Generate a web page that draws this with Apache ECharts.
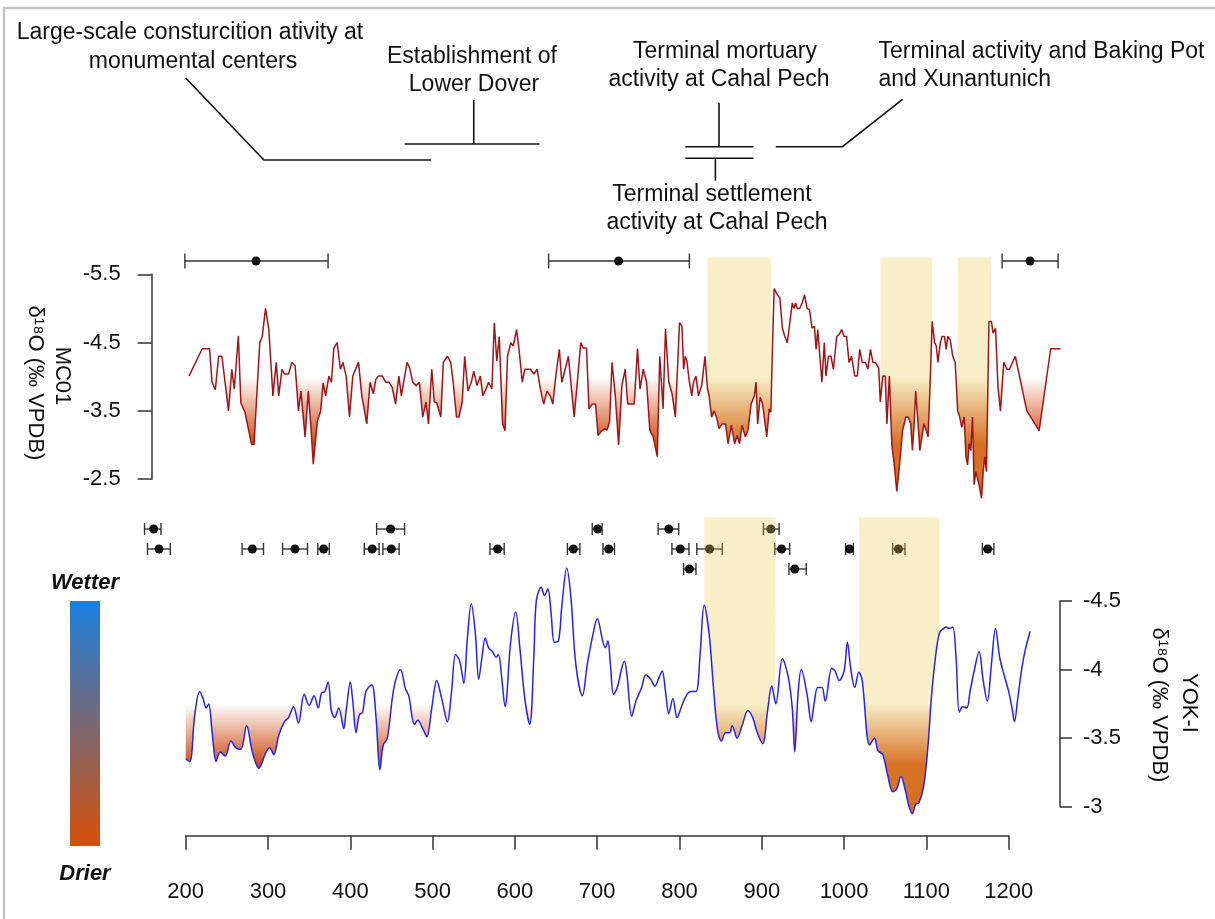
<!DOCTYPE html>
<html>
<head>
<meta charset="utf-8">
<script src="https://cdn.jsdelivr.net/npm/echarts@6/dist/echarts.min.js"></script>
<style>
  html, body { margin: 0; padding: 0; background: #fff; }
  #chart { width: 1215px; height: 919px; }
</style>
</head>
<body>
<div id="chart"></div>
<script>
// MC01 record, [year AD, d18O]
const mc01 = [
  [204,-4.01],[220,-4.41],[229,-4.41],[232,-3.92],[236,-3.81],[240,-4.30],[244,-4.30],[252,-3.50],
  [256,-4.11],[259,-3.82],[264,-4.60],[267,-3.62],[272,-3.48],[280,-3.01],[283,-3.01],[290,-4.50],
  [293,-4.59],[297,-5.00],[301,-4.69],[306,-3.72],[310,-4.21],[313,-3.72],[317,-4.11],[320,-4.04],
  [325,-4.04],[329,-4.21],[333,-4.16],[337,-3.50],[340,-3.79],[345,-3.12],[349,-3.79],[352,-3.29],
  [355,-2.72],[360,-3.35],[364,-3.50],[367,-3.91],[370,-3.72],[374,-4.01],[377,-3.92],[380,-4.42],
  [384,-4.50],[388,-4.11],[391,-4.21],[395,-4.01],[399,-3.41],[403,-4.01],[410,-4.21],[414,-3.72],
  [420,-3.31],[424,-3.92],[428,-3.75],[431,-3.96],[434,-4.01],[439,-4.01],[443,-3.92],[447,-3.92],
  [451,-3.84],[455,-3.60],[459,-4.01],[462,-3.72],[469,-4.21],[472,-4.13],[476,-3.92],[480,-3.87],
  [484,-3.92],[488,-3.41],[492,-3.63],[495,-3.31],[499,-4.11],[502,-3.63],[505,-3.62],[510,-3.41],
  [513,-4.21],[518,-4.30],[522,-4.21],[525,-3.92],[529,-3.41],[532,-3.41],[536,-3.63],[539,-4.30],
  [543,-3.79],[547,-3.92],[550,-4.08],[554,-3.87],[558,-4.01],[561,-3.72],[565,-3.82],[568,-3.92],
  [572,-3.82],[575,-4.79],[578,-4.23],[581,-4.59],[585,-3.31],[588,-3.21],[591,-4.30],[595,-4.50],
  [598,-4.45],[602,-4.69],[605,-4.40],[609,-3.92],[612,-4.11],[616,-4.11],[619,-4.11],[623,-4.04],
  [627,-4.11],[631,-3.82],[635,-3.60],[639,-3.79],[643,-3.72],[646,-3.60],[650,-4.04],[654,-4.40],
  [657,-3.92],[661,-4.11],[665,-4.30],[669,-3.79],[672,-3.41],[676,-3.94],[680,-4.50],[683,-4.42],
  [687,-4.42],[690,-3.53],[694,-3.60],[698,-3.60],[701,-3.14],[705,-3.20],[709,-3.24],[712,-3.22],
  [715,-3.34],[718,-4.21],[722,-3.72],[726,-3.00],[730,-3.87],[734,-4.11],[737,-3.60],[742,-3.60],
  [745,-3.60],[749,-4.41],[752,-3.82],[756,-4.11],[760,-3.92],[764,-3.21],[768,-3.12],[773,-2.83],
  [776,-4.30],[780,-3.53],[783,-4.70],[787,-3.92],[791,-3.75],[795,-3.41],[800,-4.79],[803,-4.74],
  [805,-4.11],[807,-4.30],[809,-4.23],[812,-3.92],[815,-3.72],[817,-3.92],[820,-4.01],[823,-3.72],
  [827,-3.87],[831,-4.30],[834,-3.82],[836,-3.72],[839,-3.41],[842,-3.50],[845,-3.41],[848,-3.24],
  [852,-3.31],[856,-3.31],[859,-3.02],[863,-3.29],[867,-3.02],[870,-3.14],[873,-3.02],[876,-3.29],
  [880,-3.12],[883,-3.21],[887,-3.60],[891,-3.72],[893,-3.92],[895,-3.31],[898,-3.70],[901,-3.60],
  [904,-3.31],[906,-3.12],[909,-3.53],[911,-3.48],[913,-4.45],[915,-5.29],[918,-5.22],[922,-5.15],
  [925,-4.71],[928,-4.59],[931,-4.50],[934,-4.79],[937,-5.08],[939,-5.00],[941,-5.08],[943,-5.00],
  [946,-5.00],[949,-5.08],[952,-5.20],[955,-5.00],[958,-4.98],[961,-4.71],[964,-4.74],[966,-4.40],
  [968,-4.69],[970,-4.71],[973,-3.92],[976,-4.50],[978,-4.01],[981,-4.30],[984,-4.30],[987,-4.11],
  [991,-4.59],[994,-4.62],[997,-4.69],[1000,-4.59],[1003,-4.59],[1006,-4.21],[1009,-4.30],[1013,-4.01],
  [1016,-4.01],[1019,-4.40],[1022,-4.21],[1026,-4.21],[1029,-4.11],[1032,-4.40],[1035,-4.21],[1038,-4.21],
  [1042,-4.13],[1044,-3.63],[1047,-4.01],[1050,-4.01],[1052,-3.31],[1055,-4.01],[1058,-3.00],[1061,-2.71],
  [1064,-2.32],[1067,-2.66],[1071,-3.21],[1075,-3.41],[1078,-3.41],[1081,-3.31],[1083,-2.92],[1085,-3.29],
  [1087,-3.79],[1090,-3.29],[1092,-2.92],[1094,-2.92],[1097,-3.31],[1100,-3.21],[1102,-3.12],[1104,-3.72],
  [1107,-4.81],[1110,-4.50],[1112,-4.45],[1114,-4.21],[1117,-4.50],[1119,-4.59],[1122,-4.59],[1124,-4.40],
  [1126,-4.59],[1129,-4.54],[1132,-4.30],[1135,-4.21],[1138,-3.50],[1140,-3.43],[1143,-3.26],[1146,-3.41],
  [1148,-2.83],[1150,-2.71],[1152,-3.02],[1154,-2.92],[1156,-3.41],[1158,-2.42],[1160,-2.61],[1162,-2.61],
  [1164,-2.42],[1167,-2.22],[1169,-2.61],[1171,-2.83],[1173,-2.61],[1176,-4.81],[1179,-4.81],[1181,-4.64],
  [1184,-4.71],[1187,-3.84],[1190,-3.50],[1194,-4.21],[1198,-4.11],[1201,-4.11],[1208,-4.30],[1222,-3.50],
  [1237,-3.21],[1251,-4.41],[1263,-4.41]
];

// YOK-I record, [year AD, d18O]
const yokI = [
  [200,-3.35],[205,-3.33],[211,-3.67],[217,-3.84],[221,-3.79],[225,-3.72],[228,-3.75],[232,-3.55],
  [237,-3.33],[242,-3.40],[248,-3.37],[255,-3.48],[261,-3.43],[267,-3.42],[274,-3.59],[281,-3.40],
  [289,-3.28],[297,-3.39],[302,-3.43],[307,-3.38],[313,-3.52],[320,-3.62],[325,-3.65],[331,-3.73],
  [337,-3.61],[344,-3.82],[350,-3.74],[356,-3.81],[361,-3.72],[365,-3.83],[369,-3.84],[373,-3.91],
  [377,-3.70],[381,-3.65],[386,-3.72],[392,-3.57],[395,-3.70],[400,-3.91],[403,-3.77],[407,-3.54],
  [411,-3.67],[415,-3.69],[419,-3.84],[426,-3.89],[431,-3.67],[436,-3.27],[440,-3.45],[445,-3.50],
  [451,-3.79],[455,-3.92],[461,-4.00],[467,-3.86],[471,-3.81],[478,-3.60],[482,-3.63],[488,-3.57],
  [493,-3.51],[499,-3.72],[505,-3.92],[511,-3.79],[518,-3.62],[523,-3.84],[528,-4.11],[533,-4.06],
  [538,-3.90],[542,-4.21],[547,-4.48],[552,-4.26],[556,-3.93],[560,-4.09],[564,-4.23],[568,-4.16],
  [573,-4.13],[577,-4.09],[580,-4.11],[584,-3.94],[588,-3.73],[595,-4.21],[601,-4.42],[606,-4.16],
  [612,-3.79],[618,-3.60],[623,-4.09],[626,-4.50],[632,-4.60],[636,-4.54],[640,-4.59],[644,-4.41],
  [648,-4.20],[653,-4.21],[657,-4.46],[663,-4.74],[668,-4.53],[674,-4.04],[682,-3.81],[688,-4.04],
  [695,-4.26],[700,-4.37],[707,-4.20],[710,-4.16],[713,-4.21],[716,-4.04],[720,-3.82],[725,-3.88],
  [729,-3.99],[733,-4.06],[736,-3.97],[742,-3.66],[747,-3.77],[754,-3.87],[759,-3.96],[765,-3.93],
  [770,-3.88],[775,-3.94],[779,-3.99],[783,-3.84],[787,-3.68],[792,-3.79],[797,-3.65],[803,-3.74],
  [809,-3.82],[814,-3.84],[820,-3.84],[825,-4.11],[830,-4.47],[836,-4.26],[841,-3.89],[846,-3.57],
  [851,-3.48],[856,-3.54],[861,-3.54],[864,-3.59],[870,-3.50],[876,-3.59],[883,-3.70],[889,-3.65],
  [894,-3.55],[901,-3.46],[907,-3.70],[912,-3.88],[917,-3.75],[925,-4.08],[932,-3.95],[937,-3.72],
  [940,-3.40],[944,-3.82],[948,-4.00],[955,-3.82],[960,-3.62],[964,-3.77],[968,-3.87],[973,-3.87],
  [977,-3.77],[985,-4.01],[989,-3.99],[994,-3.92],[1000,-3.99],[1004,-4.20],[1008,-4.01],[1013,-3.87],
  [1018,-3.98],[1022,-3.92],[1031,-3.45],[1037,-3.50],[1041,-3.41],[1047,-3.38],[1053,-3.23],[1059,-3.11],
  [1064,-3.13],[1069,-3.22],[1074,-3.13],[1079,-3.00],[1083,-2.95],[1087,-3.02],[1091,-3.03],[1097,-3.16],
  [1102,-3.45],[1106,-3.79],[1111,-4.09],[1116,-4.27],[1121,-4.30],[1124,-4.31],[1128,-4.30],[1132,-4.31],
  [1136,-4.09],[1140,-3.69],[1144,-3.73],[1149,-3.72],[1153,-3.84],[1158,-3.99],[1164,-4.13],[1169,-3.92],
  [1174,-3.77],[1179,-4.04],[1184,-4.30],[1189,-4.09],[1194,-3.97],[1200,-3.84],[1204,-3.72],[1207,-3.62],
  [1211,-3.79],[1216,-4.01],[1220,-4.14],[1226,-4.28]
];

// dates with ranges: [centre, low, high, row]
const mc01Dates = [[285.5,199,373,1],[726,641,812,1],[1226,1192,1260,1]];
const yokDates = [
  [161,150,170,1],[449,432,466,1],[700.6,694,706,1],[787,774,799,1],[911,902,921,1],
  [167.6,153.6,181.3,2],[281,268.5,294.5,2],[332.7,317.7,348,2],[367.6,360.5,374.5,2],[426.6,417,435,2],
  [449.8,439.6,459.3,2],[579,569.7,587,2],[671,663.8,679,2],[714,707,721,2],[801,790.8,811.5,2],
  [836.5,821,852,2],[924,915.7,933.9,2],[1006.6,1001.8,1011.3,2],[1066,1059,1074,2],[1174.5,1168,1182,2],
  [812,805,820,3],[940,933,954,3]
];

const mc01Bands = [[832,911],[1044,1108],[1136,1179]];
const yokBands = [[830,918],[1018,1117]];
const mc01Dry = -4.0;
const yokDry = -3.75;
const mc01Ticks = ['-5.5','-4.5','-3.5','-2.5'];
const yokTicks = ['-4.5','-4','-3.5','-3'];

const FONT = '"Liberation Sans", Arial, Helvetica, sans-serif';
const INK = '#111';
const AXIS = '#333';

// shared year scale
const YEAR0 = 200, YEAR0_PX = 185.7, PX_PER_YEAR = 0.823;
const X_MIN = 140, X_MAX = 1280;
const spanX = (a, b) => ({ left: YEAR0_PX + (a - YEAR0) * PX_PER_YEAR, width: (b - a) * PX_PER_YEAR });
const mcPx = v => 274.3 + (v + 5.5) * 68.3;
const yokPx = v => 601 + (v + 4.5) * 137.2;
const MC_MIN = -5.75, MC_MAX = -2.0, YOK_MIN = -5.11, YOK_MAX = -2.8;

const bandColor = 'rgba(232,202,72,0.3)';
const dryFill = (y0, y1) => ({
  type: 'linear', x: 0, y: y0, x2: 0, y2: y1, global: true,
  colorStops: [{ offset: 0, color: '#ffffff' }, { offset: 1, color: '#cf4a12' }]
});

function renderDate(params, api) {
  const row = api.value(3);
  const c = api.coord([api.value(0), row]);
  const lo = api.coord([api.value(1), row]);
  const hi = api.coord([api.value(2), row]);
  const h = params.seriesIndex === 0 ? 7.5 : 6;
  const st = { stroke: '#333', lineWidth: 1.4 };
  return {
    type: 'group',
    children: [
      { type: 'line', shape: { x1: lo[0], y1: c[1], x2: hi[0], y2: c[1] }, style: st },
      { type: 'line', shape: { x1: lo[0], y1: c[1] - h, x2: lo[0], y2: c[1] + h }, style: st },
      { type: 'line', shape: { x1: hi[0], y1: c[1] - h, x2: hi[0], y2: c[1] + h }, style: st },
      { type: 'circle', shape: { cx: c[0], cy: c[1], r: 4.5 }, style: { fill: '#111' } }
    ]
  };
}

const hiddenX = (i, min, max) => ({ gridIndex: i, type: 'value', min, max, show: false });
const hiddenY = (i, min, max) => ({ gridIndex: i, type: 'value', min, max, inverse: true, show: false });

const series = [
  { type: 'custom', name: 'mc01 dates', xAxisIndex: 3, yAxisIndex: 3, renderItem: renderDate,
    encode: { x: [0, 1, 2], y: 3 }, data: mc01Dates, z: 2, clip: false, silent: true },
  { type: 'custom', name: 'yok dates', xAxisIndex: 2, yAxisIndex: 2, renderItem: renderDate,
    encode: { x: [0, 1, 2], y: 3 }, data: yokDates, z: 2, clip: false, silent: true },
  { type: 'line', name: 'mc01 dry', xAxisIndex: 0, yAxisIndex: 0, data: mc01, showSymbol: false,
    lineStyle: { width: 0 }, areaStyle: { origin: mc01Dry, color: dryFill(mcPx(mc01Dry), mcPx(-3.0)), opacity: 1 },
    z: 1, silent: true },
  { type: 'line', name: 'yok dry', xAxisIndex: 1, yAxisIndex: 1, data: yokI, showSymbol: false, smooth: 0.35,
    lineStyle: { width: 0 }, areaStyle: { origin: yokDry, color: dryFill(yokPx(yokDry), yokPx(-3.3)), opacity: 1 },
    z: 1, silent: true }
];
mc01Bands.forEach(b => series.push({
  type: 'line', xAxisIndex: 0, yAxisIndex: 0, showSymbol: false, silent: true, z: 3,
  data: mc01.filter(p => p[0] >= b[0] && p[0] <= b[1]),
  lineStyle: { width: 0 }, areaStyle: { origin: MC_MIN, color: bandColor, opacity: 1 }
}));
yokBands.forEach(b => series.push({
  type: 'line', xAxisIndex: 1, yAxisIndex: 1, showSymbol: false, silent: true, z: 3, smooth: 0.35,
  data: yokI.filter(p => p[0] >= b[0] && p[0] <= b[1]),
  lineStyle: { width: 0 }, areaStyle: { origin: YOK_MIN, color: bandColor, opacity: 1 }
}));
series.push(
  { type: 'line', name: 'MC01', xAxisIndex: 0, yAxisIndex: 0, data: mc01, showSymbol: false, z: 4,
    lineStyle: { color: '#a0141a', width: 1.5 } },
  { type: 'line', name: 'YOK-I', xAxisIndex: 1, yAxisIndex: 1, data: yokI, showSymbol: false, smooth: 0.35, z: 4,
    lineStyle: { color: '#2424e6', width: 1.5 } }
);

const chart = echarts.init(document.getElementById('chart'));
chart.setOption({
  animation: false,
  backgroundColor: '#fff',
  grid: [
    { ...spanX(X_MIN, X_MAX), top: mcPx(MC_MIN), height: mcPx(MC_MAX) - mcPx(MC_MIN) },
    { ...spanX(X_MIN, X_MAX), top: yokPx(YOK_MIN), height: yokPx(YOK_MAX) - yokPx(YOK_MIN) },
    { ...spanX(X_MIN, X_MAX), top: 509, height: 80 },
    { ...spanX(X_MIN, X_MAX), top: 241, height: 40 },
    { left: 151.7, width: 1, top: mcPx(-5.5), height: mcPx(-2.5) - mcPx(-5.5) },
    { left: 1060, width: 1, top: yokPx(-4.5), height: yokPx(-3) - yokPx(-4.5) },
    { ...spanX(200, 1200), top: 835.7, height: 10 }
  ],
  xAxis: [
    hiddenX(0, X_MIN, X_MAX), hiddenX(1, X_MIN, X_MAX), hiddenX(2, X_MIN, X_MAX), hiddenX(3, X_MIN, X_MAX),
    hiddenX(4, 0, 1), hiddenX(5, 0, 1),
    { gridIndex: 6, type: 'value', min: 200, max: 1200, interval: 100, position: 'bottom',
      axisLine: { lineStyle: { color: AXIS, width: 1.5 } },
      axisTick: { length: 14, lineStyle: { color: AXIS, width: 1.5 } },
      axisLabel: { margin: 35, fontSize: 22, color: INK, fontFamily: FONT, formatter: v => String(v) },
      splitLine: { show: false } }
  ],
  yAxis: [
    hiddenY(0, MC_MIN, MC_MAX), hiddenY(1, YOK_MIN, YOK_MAX), hiddenY(2, 0, 4), hiddenY(3, 0, 2),
    { gridIndex: 4, type: 'value', min: 0, max: 3, interval: 1, inverse: true, position: 'left',
      axisLine: { show: true, lineStyle: { color: AXIS, width: 1.5 } },
      axisTick: { show: true, length: 14, lineStyle: { color: AXIS, width: 1.5 } },
      axisLabel: { margin: 31, fontSize: 22, color: INK, fontFamily: FONT, formatter: v => mc01Ticks[Math.round(v)] },
      splitLine: { show: false } },
    { gridIndex: 5, type: 'value', min: 0, max: 3, interval: 1, inverse: true, position: 'right',
      axisLine: { show: true, lineStyle: { color: AXIS, width: 1.5 } },
      axisTick: { show: true, length: 12, lineStyle: { color: AXIS, width: 1.5 } },
      axisLabel: { margin: 22, fontSize: 22, color: INK, fontFamily: FONT, formatter: v => yokTicks[Math.round(v)] },
      splitLine: { show: false } },
    hiddenY(6, 0, 1)
  ],
  series
});

// annotations: leader lines placed on the year scale
const px = yr => chart.convertToPixel({ xAxisIndex: 0 }, yr);
const lead = pts => ({ type: 'polyline', shape: { points: pts.map(p => [px(p[0]), p[1]]) },
  style: { stroke: INK, lineWidth: 1.6, fill: null }, silent: true });
const label = (text, x, y, opts = {}) => ({ type: 'text', x, y, rotation: opts.rotation || 0, silent: true,
  style: { text, fill: INK, fontFamily: FONT, fontSize: opts.size || 22, fontWeight: opts.weight || 'normal',
    fontStyle: opts.style || 'normal', align: opts.align || 'center', verticalAlign: 'middle' } });
const note = (text, x, y, align) => label(text, x, y, { size: 23, align });

const R90 = -Math.PI / 2;
chart.setOption({
  graphic: [
    { type: 'polyline', shape: { points: [[4, 919], [4, 8], [1215, 8]] }, style: { stroke: '#c4c4c4', lineWidth: 2.5, fill: null }, silent: true },
    note('Large-scale consturcition ativity at', 190, 33),
    note('monumental centers', 193, 62),
    lead([[200, 78], [295, 160], [498, 160]]),
    note('Establishment of', 472, 57),
    note('Lower Dover', 474, 85),
    lead([[550, 100], [550, 144]]),
    lead([[466, 144], [630, 144]]),
    note('Terminal mortuary', 725, 52),
    note('activity at Cahal Pech', 719, 80),
    lead([[848, 102.7], [848, 146.7]]),
    lead([[807, 146.7], [890, 146.7]]),
    lead([[807, 158.3], [890, 158.3]]),
    lead([[843.6, 158.3], [843.6, 180.7]]),
    note('Terminal settlement', 712, 195),
    note('activity at Cahal Pech', 717, 223),
    note('Terminal activity and Baking Pot', 878.5, 52, 'left'),
    note('and Xunantunich', 878.5, 80, 'left'),
    lead([[917, 146.7], [998, 146.7], [1071, 99.3]]),
    label('MC01', 62, 376, { rotation: R90 }),
    label('δ¹⁸O (‰ VPDB)', 35, 383, { rotation: R90 }),
    label('YOK-I', 1189, 703, { rotation: R90 }),
    label('δ¹⁸O (‰ VPDB)', 1159, 705, { rotation: R90 }),
    { type: 'rect', shape: { x: 70, y: 601, width: 30, height: 245 }, silent: true,
      style: { fill: { type: 'linear', x: 0, y: 0, x2: 0, y2: 1,
        colorStops: [{ offset: 0, color: '#1a80e0' }, { offset: 1, color: '#d75008' }] } } },
    label('Wetter', 85, 583, { weight: 'bold', style: 'italic' }),
    label('Drier', 85, 874, { weight: 'bold', style: 'italic' })
  ]
});
</script>
</body>
</html>
